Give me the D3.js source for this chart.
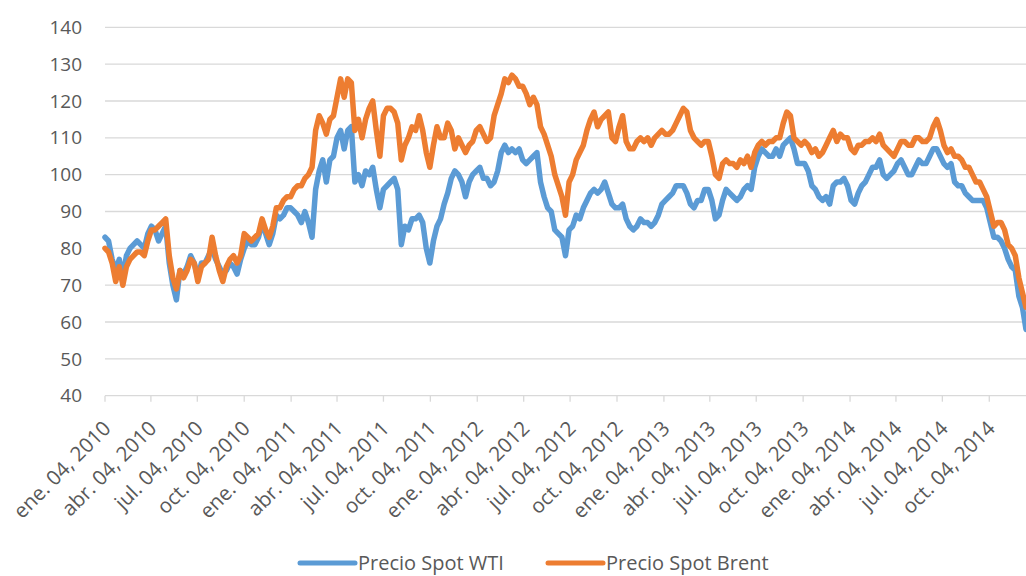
<!DOCTYPE html>
<html>
<head>
<meta charset="utf-8">
<script src="https://cdn.jsdelivr.net/npm/d3@7"></script>
<style>
  body { margin: 0; background: #fff; }
  svg { display: block; font-family: "Open Sans", sans-serif; }
</style>
</head>
<body>
<svg id="chart" width="1026" height="576"></svg>
<script>
// weekly spot prices (USD/bbl), first value is the week of Jan 4, 2010
var wti2010 = [83,82,77,74,77,72,78,80,81,82,81,80,84,86,85,82,84,86,76,70,66,74,73,75,78,76,72,76,76,78,80,77,75,73,74,76,75,73,77,80,82,81,81,83,87,84,81,84,89,88,89,91];
var wti2011 = [91,90,89,87,90,87,83,96,101,104,98,104,105,110,112,107,112,113,98,100,97,101,100,102,96,91,96,97,98,99,96,81,86,85,88,88,89,87,80,76,82,86,88,92,95,99,101,100,98,94,98,100];
var wti2012 = [101,102,99,99,97,98,101,106,108,106,107,106,107,104,103,104,105,106,98,94,91,90,85,84,83,78,85,86,89,88,91,93,95,96,95,96,98,95,92,91,91,92,88,86,85,86,88,87,87,86,87,89,92];
var wti2013 = [93,94,95,97,97,97,95,92,91,93,93,96,96,93,88,89,93,96,95,94,93,94,96,97,96,102,105,107,106,105,105,107,105,108,109,110,107,103,103,103,101,97,96,94,93,94,92,97,98,98,99,97];
var wti2014 = [93,92,95,97,98,100,102,102,104,100,99,100,101,103,104,102,100,100,102,104,103,103,105,107,107,105,103,102,103,98,97,97,95,94,93,93,93,93,91,87,83,83,82,80,77,75,74,67,64,58];

var brent2010 = [80,79,76,71,75,70,75,77,78,79,79,78,82,85,85,86,87,88,78,72,69,74,72,74,77,76,71,75,76,77,83,78,74,71,75,77,78,76,78,84,83,82,83,84,88,85,83,86,91,91,93,94];
var brent2011 = [94,96,97,97,99,100,102,112,116,114,111,115,116,121,126,121,126,125,112,115,110,115,118,120,112,105,116,118,118,117,114,104,108,110,113,112,116,112,106,102,108,113,110,110,114,112,107,110,108,106,108,109];
var brent2012 = [112,113,111,109,110,116,119,122,126,125,127,126,124,124,122,119,121,119,113,111,108,105,100,97,94,89,98,100,104,106,108,112,115,117,113,115,116,117,110,109,113,116,109,107,107,109,110,109,110,108,110,111,112];
var brent2013 = [111,111,112,114,116,118,117,112,110,109,108,109,109,105,100,99,103,104,103,103,102,104,103,105,102,106,108,109,108,109,109,110,110,114,117,116,110,109,108,109,108,106,107,105,106,108,110,112,109,111,110,110];
var brent2014 = [107,106,108,108,109,109,110,109,111,108,107,106,105,107,109,109,108,108,110,110,109,109,110,113,115,112,108,106,107,105,105,104,102,102,100,98,98,96,94,90,86,87,87,85,81,80,78,72,68,64];

var yTicks = [40,50,60,70,80,90,100,110,120,130,140];
var monthNames = ["ene.","feb.","mar.","abr.","may.","jun.","jul.","ago.","sep.","oct.","nov.","dic."];
var seriesNames = ["Precio Spot WTI", "Precio Spot Brent"];
var colors = ["#5B9BD5", "#ED7D31"];

var wti = [].concat(wti2010, wti2011, wti2012, wti2013, wti2014);
var brent = [].concat(brent2010, brent2011, brent2012, brent2013, brent2014);

var startDate = new Date(2010, 0, 4);
var endDate = d3.timeWeek.offset(startDate, wti.length - 1);

var svg = d3.select("#chart");
var plotLeft = 105, plotRight = 1026, plotTop = 27.3, plotBottom = 395.7;

var x = d3.scaleTime().domain([startDate, endDate]).range([plotLeft, plotRight]);
var y = d3.scaleLinear().domain([40, 140]).range([plotBottom, plotTop]);

//gridlines
svg.append("g")
  .selectAll("line")
  .data(yTicks)
  .join("line")
  .attr("x1", plotLeft).attr("x2", 1026)
  .attr("y1", d => y(d)).attr("y2", d => y(d))
  .attr("stroke", "#d9d9d9")
  .attr("stroke-width", 1.3);

//y labels
svg.append("g")
  .selectAll("text")
  .data(yTicks)
  .join("text")
  .attr("x", 82)
  .attr("y", d => y(d))
  .attr("dy", "0.35em")
  .attr("text-anchor", "end")
  .attr("fill", "#595959")
  .style("font-size", "19px")
  .text(d => d);

//quarterly ticks on the date axis
var quarterTicks = [];
for (var yr = 2010; yr <= 2014; yr++) {
  [0, 3, 6, 9].forEach(function(m) { quarterTicks.push(new Date(yr, m, 4)); });
}

var xAxis = svg.append("g");
xAxis.selectAll("line")
  .data(quarterTicks)
  .join("line")
  .attr("x1", d => x(d)).attr("x2", d => x(d))
  .attr("y1", plotBottom).attr("y2", plotBottom + 6)
  .attr("stroke", "#d9d9d9")
  .attr("stroke-width", 1.3);

xAxis.selectAll("text")
  .data(quarterTicks)
  .join("text")
  .attr("transform", d => "translate(" + (x(d) + 7) + "," + (plotBottom + 34) + ") rotate(-45)")
  .attr("text-anchor", "end")
  .attr("fill", "#595959")
  .style("font-size", "20.5px")
  .text(d => monthNames[d.getMonth()] + " 04, " + d.getFullYear());

//lines
var line = d3.line()
  .x((d, i) => x(d3.timeWeek.offset(startDate, i)))
  .y(d => y(d));

[wti, brent].forEach(function(series, k) {
  svg.append("path")
    .datum(series)
    .attr("d", line)
    .attr("fill", "none")
    .attr("stroke", colors[k])
    .attr("stroke-width", 5.5)
    .attr("stroke-linejoin", "round")
    .attr("stroke-linecap", "round");
});

//legend
var legendX = [300, 548];
var legend = svg.append("g");
seriesNames.forEach(function(name, k) {
  legend.append("line")
    .attr("x1", legendX[k]).attr("x2", legendX[k] + 55)
    .attr("y1", 563).attr("y2", 563)
    .attr("stroke", colors[k])
    .attr("stroke-width", 5)
    .attr("stroke-linecap", "round");
  legend.append("text")
    .attr("x", legendX[k] + 58)
    .attr("y", 563)
    .attr("dy", "0.35em")
    .attr("fill", "#595959")
    .style("font-size", "20px")
    .text(name);
});
</script>
</body>
</html>
